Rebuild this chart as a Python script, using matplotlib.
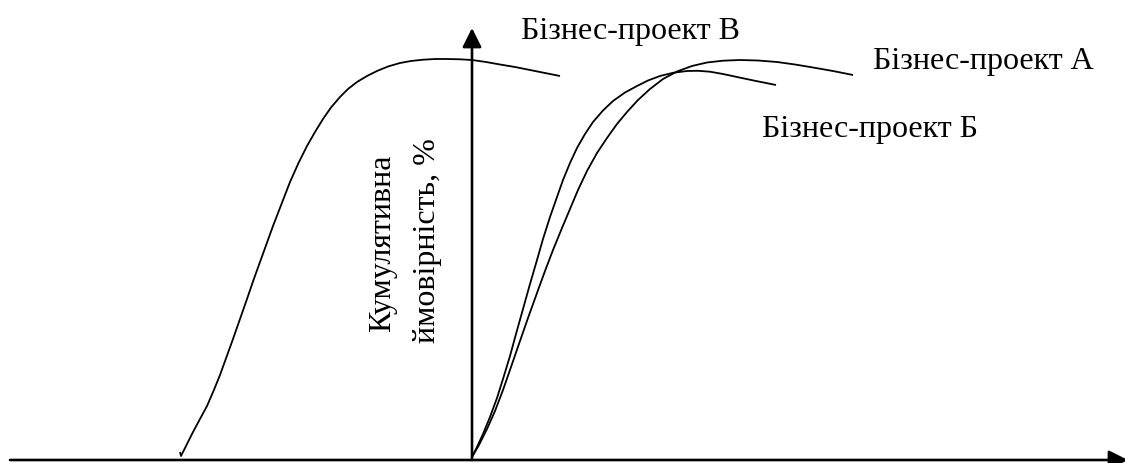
import matplotlib
matplotlib.use("Agg")
import matplotlib.pyplot as plt

plt.rcParams["font.family"] = ["Liberation Serif", "DejaVu Serif"]

# curves: x relative to the y-axis, y above the x-axis
proj_v_x = [-292, -291, -285, -279, -272, -265, -258.5, -252, -245.5, -239, -232,
            -225, -218.5, -212, -205.5, -199, -190.5, -182, -173.5, -165, -157, -149,
            -141, -132, -124, -115, -105, -95, -84, -72, -61, -49, -37, -25,
            -12, 0, 14, 28, 43, 58, 73, 88]
proj_v_y = [8, 4, 16, 28, 41, 54, 69, 85, 103, 121, 141,
            161, 180, 198, 216, 234, 256, 278, 297, 314, 328, 341,
            352.5, 363, 371, 378, 384, 389, 393.5, 397, 399, 400.3, 401, 401,
            400.7, 400, 398, 395.5, 393, 390, 387, 384]

proj_b_x = [0, 5, 11, 18, 25, 31, 38, 44, 51, 58, 65, 71, 78, 85, 91, 98,
            105, 113, 121, 131, 141, 153, 165, 176, 188, 201, 215, 226, 238,
            251, 265, 284, 304]
proj_b_y = [3, 13, 26, 43, 62, 81, 104, 126, 151, 176, 200, 221, 243, 263, 280, 297,
            312, 326, 338, 349.5, 359, 367.5, 374, 379.5, 384, 387.2, 389, 389.2, 388.3,
            386, 383, 379, 375]

proj_a_x = [0, 7, 15, 23, 31, 39, 48, 56, 65, 73, 81, 90, 98, 106, 115, 125,
            135, 145, 155, 166, 178, 191, 205, 220, 235, 251, 268, 286, 305,
            323, 341, 361, 381]
proj_a_y = [3, 15, 31, 49, 70, 93, 119, 142, 167, 189, 210, 232, 251, 270, 289, 307,
            322, 336, 348, 360, 371, 381, 388.5, 394, 397.5, 399.3, 400, 399.5, 398,
            395.5, 392.5, 389, 385]

labels = ["Бізнес-проект В", "Бізнес-проект А", "Бізнес-проект Б"]
ylabel_lines = ["Кумулятивна", "ймовірність, %"]

fig = plt.figure(figsize=(11.25, 4.64), dpi=100)
ax = fig.add_axes([0, 0, 1, 1])
ax.set_xlim(-472, 653)
ax.set_ylim(-3, 461)
ax.axis("off")

# axes with arrows
arrow = dict(arrowstyle="-|>", lw=1.9, color="k", mutation_scale=29,
             shrinkA=0, shrinkB=0)
ax.annotate("", xy=(656, 0), xytext=(-462, 0), arrowprops=arrow,
            annotation_clip=False)
ax.annotate("", xy=(0, 432), xytext=(0, 0), arrowprops=arrow,
            annotation_clip=False)

for xs, ys in [(proj_v_x, proj_v_y), (proj_b_x, proj_b_y), (proj_a_x, proj_a_y)]:
    ax.plot(xs, ys, color="k", lw=1.3, solid_capstyle="butt", solid_joinstyle="round")

fs = 23
ax.text(49, 422, labels[0], fontsize=fs, ha="left", va="baseline")
ax.text(401, 392, labels[1], fontsize=fs, ha="left", va="baseline")
ax.text(290, 324, labels[2], fontsize=fs, ha="left", va="baseline")

ax.text(-82, 218, ylabel_lines[0], fontsize=fs, rotation=90,
        rotation_mode="anchor", ha="center", va="baseline")
ax.text(-37.5, 220, ylabel_lines[1], fontsize=fs, rotation=90,
        rotation_mode="anchor", ha="center", va="baseline")

fig.savefig("out.png", dpi=100, facecolor="white")
